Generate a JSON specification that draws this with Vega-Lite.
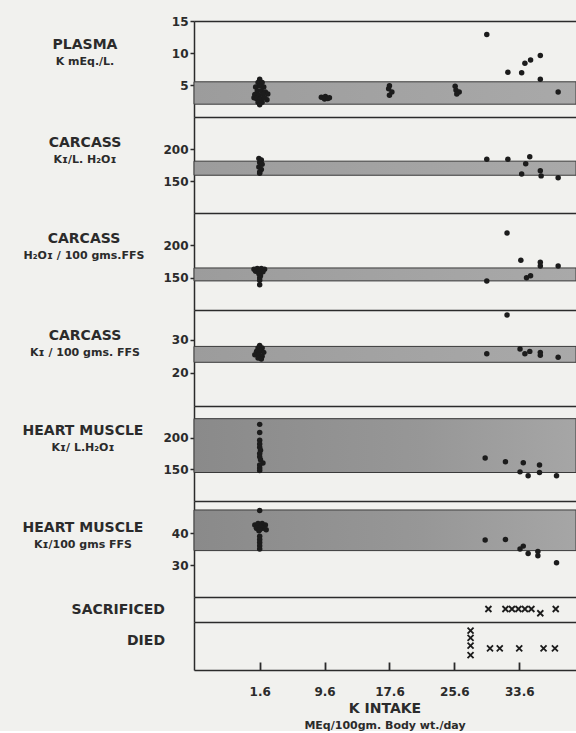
{
  "$schema": "https://vega.github.io/schema/vega-lite/v6.json",
  "background": "#f1f1ee",
  "padding": {"left": 22, "top": 15, "right": 0, "bottom": 0},
  "spacing": 0,
  "bounds": "flush",
  "title": {"text": "K INTAKE", "subtitle": "MEq/100gm. Body wt./day", "orient": "bottom", "anchor": "middle", "frame": "group", "offset": 5, "font": "DejaVu Sans", "fontSize": 14, "fontWeight": "bold", "color": "#2b2b2b", "subtitleFont": "DejaVu Sans", "subtitleFontSize": 11, "subtitleFontWeight": "bold", "subtitleColor": "#2b2b2b", "subtitlePadding": 4},
  "datasets": {
    "bands": [
      {"panel": "plasma", "lo": 2.0, "hi": 5.5},
      {"panel": "ck", "lo": 159, "hi": 181},
      {"panel": "ch", "lo": 145, "hi": 165},
      {"panel": "cf", "lo": 23.2, "hi": 28},
      {"panel": "hk", "lo": 145, "hi": 230},
      {"panel": "hf", "lo": 34.5, "hi": 47.2}
    ],
    "pts": [
      {"panel": "plasma", "k": 1.6, "v": 5.9}, {"panel": "plasma", "k": 1.4, "v": 5.4}, {"panel": "plasma", "k": 1.9, "v": 5.4},
      {"panel": "plasma", "k": 1.1, "v": 4.7}, {"panel": "plasma", "k": 1.6, "v": 4.9}, {"panel": "plasma", "k": 2.1, "v": 4.7},
      {"panel": "plasma", "k": 1.3, "v": 4.1}, {"panel": "plasma", "k": 1.8, "v": 4.1}, {"panel": "plasma", "k": 2.3, "v": 3.9},
      {"panel": "plasma", "k": 1.0, "v": 3.5}, {"panel": "plasma", "k": 1.5, "v": 3.4}, {"panel": "plasma", "k": 2.0, "v": 3.5},
      {"panel": "plasma", "k": 2.6, "v": 3.6}, {"panel": "plasma", "k": 0.9, "v": 3.0}, {"panel": "plasma", "k": 2.5, "v": 2.7},
      {"panel": "plasma", "k": 1.2, "v": 2.9}, {"panel": "plasma", "k": 1.7, "v": 2.8}, {"panel": "plasma", "k": 2.2, "v": 3.0},
      {"panel": "plasma", "k": 1.4, "v": 2.3}, {"panel": "plasma", "k": 1.9, "v": 2.3}, {"panel": "plasma", "k": 1.6, "v": 1.9},
      {"panel": "plasma", "k": 9.2, "v": 3.1}, {"panel": "plasma", "k": 9.7, "v": 3.2}, {"panel": "plasma", "k": 10.2, "v": 3.0},
      {"panel": "plasma", "k": 9.6, "v": 2.8}, {"panel": "plasma", "k": 10.0, "v": 2.9},
      {"panel": "plasma", "k": 17.6, "v": 4.9}, {"panel": "plasma", "k": 17.5, "v": 4.4}, {"panel": "plasma", "k": 17.9, "v": 3.9}, {"panel": "plasma", "k": 17.6, "v": 3.4},
      {"panel": "plasma", "k": 25.7, "v": 4.8}, {"panel": "plasma", "k": 25.8, "v": 4.2}, {"panel": "plasma", "k": 26.2, "v": 3.9}, {"panel": "plasma", "k": 25.9, "v": 3.6},
      {"panel": "plasma", "k": 29.6, "v": 12.9}, {"panel": "plasma", "k": 32.2, "v": 7.0}, {"panel": "plasma", "k": 33.9, "v": 6.9},
      {"panel": "plasma", "k": 34.3, "v": 8.4}, {"panel": "plasma", "k": 35.0, "v": 8.9}, {"panel": "plasma", "k": 36.2, "v": 9.6},
      {"panel": "plasma", "k": 36.2, "v": 5.9}, {"panel": "plasma", "k": 38.4, "v": 3.9},

      {"panel": "ck", "k": 1.5, "v": 185}, {"panel": "ck", "k": 1.8, "v": 183}, {"panel": "ck", "k": 1.6, "v": 179}, {"panel": "ck", "k": 1.9, "v": 176},
      {"panel": "ck", "k": 1.5, "v": 172}, {"panel": "ck", "k": 1.8, "v": 168}, {"panel": "ck", "k": 1.6, "v": 164}, {"panel": "ck", "k": 1.6, "v": 162},
      {"panel": "ck", "k": 29.6, "v": 184}, {"panel": "ck", "k": 32.2, "v": 184}, {"panel": "ck", "k": 34.9, "v": 188}, {"panel": "ck", "k": 34.4, "v": 177},
      {"panel": "ck", "k": 33.9, "v": 161}, {"panel": "ck", "k": 36.2, "v": 166}, {"panel": "ck", "k": 36.3, "v": 158}, {"panel": "ck", "k": 38.4, "v": 155},

      {"panel": "ch", "k": 0.9, "v": 163}, {"panel": "ch", "k": 1.3, "v": 164}, {"panel": "ch", "k": 1.8, "v": 164}, {"panel": "ch", "k": 2.2, "v": 163},
      {"panel": "ch", "k": 1.1, "v": 160}, {"panel": "ch", "k": 1.6, "v": 161}, {"panel": "ch", "k": 2.0, "v": 159}, {"panel": "ch", "k": 1.5, "v": 156},
      {"panel": "ch", "k": 1.7, "v": 153}, {"panel": "ch", "k": 1.6, "v": 150}, {"panel": "ch", "k": 1.6, "v": 146}, {"panel": "ch", "k": 1.6, "v": 139},
      {"panel": "ch", "k": 29.6, "v": 145}, {"panel": "ch", "k": 32.1, "v": 219}, {"panel": "ch", "k": 33.8, "v": 177}, {"panel": "ch", "k": 34.5, "v": 150},
      {"panel": "ch", "k": 35.0, "v": 153}, {"panel": "ch", "k": 36.2, "v": 174}, {"panel": "ch", "k": 36.2, "v": 168}, {"panel": "ch", "k": 38.4, "v": 168},

      {"panel": "cf", "k": 1.6, "v": 28.3}, {"panel": "cf", "k": 1.4, "v": 27.5}, {"panel": "cf", "k": 1.9, "v": 27.5}, {"panel": "cf", "k": 1.2, "v": 26.5},
      {"panel": "cf", "k": 1.7, "v": 26.8}, {"panel": "cf", "k": 2.1, "v": 26.2}, {"panel": "cf", "k": 1.0, "v": 25.5}, {"panel": "cf", "k": 1.5, "v": 25.5},
      {"panel": "cf", "k": 1.9, "v": 25.0}, {"panel": "cf", "k": 1.4, "v": 24.5}, {"panel": "cf", "k": 1.8, "v": 24.2},
      {"panel": "cf", "k": 29.6, "v": 25.8}, {"panel": "cf", "k": 32.1, "v": 37.5}, {"panel": "cf", "k": 33.7, "v": 27.2}, {"panel": "cf", "k": 34.3, "v": 25.8},
      {"panel": "cf", "k": 34.9, "v": 26.5}, {"panel": "cf", "k": 36.2, "v": 26.2}, {"panel": "cf", "k": 36.2, "v": 25.3}, {"panel": "cf", "k": 38.4, "v": 24.7},

      {"panel": "hk", "k": 1.6, "v": 221}, {"panel": "hk", "k": 1.6, "v": 208}, {"panel": "hk", "k": 1.6, "v": 196}, {"panel": "hk", "k": 1.6, "v": 190},
      {"panel": "hk", "k": 1.6, "v": 185}, {"panel": "hk", "k": 1.7, "v": 180}, {"panel": "hk", "k": 1.6, "v": 175}, {"panel": "hk", "k": 1.6, "v": 170},
      {"panel": "hk", "k": 1.7, "v": 165}, {"panel": "hk", "k": 2.0, "v": 160}, {"panel": "hk", "k": 1.6, "v": 157}, {"panel": "hk", "k": 1.6, "v": 152},
      {"panel": "hk", "k": 1.6, "v": 148},
      {"panel": "hk", "k": 29.4, "v": 168}, {"panel": "hk", "k": 31.9, "v": 162}, {"panel": "hk", "k": 34.1, "v": 160.5}, {"panel": "hk", "k": 33.7, "v": 146},
      {"panel": "hk", "k": 34.7, "v": 140}, {"panel": "hk", "k": 36.1, "v": 157}, {"panel": "hk", "k": 36.1, "v": 145}, {"panel": "hk", "k": 38.2, "v": 140},

      {"panel": "hf", "k": 1.6, "v": 47}, {"panel": "hf", "k": 1.0, "v": 42.5}, {"panel": "hf", "k": 1.4, "v": 43}, {"panel": "hf", "k": 1.9, "v": 43},
      {"panel": "hf", "k": 2.3, "v": 42.5}, {"panel": "hf", "k": 1.2, "v": 41.5}, {"panel": "hf", "k": 2.0, "v": 41.5}, {"panel": "hf", "k": 2.4, "v": 41},
      {"panel": "hf", "k": 1.5, "v": 40.7}, {"panel": "hf", "k": 1.7, "v": 42}, {"panel": "hf", "k": 1.6, "v": 41}, {"panel": "hf", "k": 1.6, "v": 39},
      {"panel": "hf", "k": 1.6, "v": 38}, {"panel": "hf", "k": 1.6, "v": 37}, {"panel": "hf", "k": 1.6, "v": 36}, {"panel": "hf", "k": 1.6, "v": 35},
      {"panel": "hf", "k": 29.4, "v": 37.8}, {"panel": "hf", "k": 31.9, "v": 38}, {"panel": "hf", "k": 33.7, "v": 35}, {"panel": "hf", "k": 34.1, "v": 35.9},
      {"panel": "hf", "k": 34.7, "v": 33.6}, {"panel": "hf", "k": 35.9, "v": 34.2}, {"panel": "hf", "k": 35.9, "v": 32.9}, {"panel": "hf", "k": 38.2, "v": 30.7}
    ],
    "crosses": [
      {"panel": "sac", "k": 29.8, "v": 5.2}, {"panel": "sac", "k": 31.9, "v": 5.2}, {"panel": "sac", "k": 32.7, "v": 5.2}, {"panel": "sac", "k": 33.5, "v": 5.2},
      {"panel": "sac", "k": 34.3, "v": 5.2}, {"panel": "sac", "k": 35.1, "v": 5.2}, {"panel": "sac", "k": 36.2, "v": 3.5}, {"panel": "sac", "k": 38.1, "v": 5.2},
      {"panel": "died", "k": 27.6, "v": 8.2}, {"panel": "died", "k": 27.6, "v": 6.7}, {"panel": "died", "k": 27.6, "v": 5.1}, {"panel": "died", "k": 27.6, "v": 3.1},
      {"panel": "died", "k": 30.0, "v": 4.5}, {"panel": "died", "k": 31.2, "v": 4.5}, {"panel": "died", "k": 33.6, "v": 4.5},
      {"panel": "died", "k": 36.6, "v": 4.5}, {"panel": "died", "k": 38.0, "v": 4.5}
    ]
  },
  "config": {
    "view": {"stroke": null},
    "axis": {"domainColor": "#2b2b2b", "domainWidth": 1.5, "tickColor": "#2b2b2b", "tickWidth": 1.5, "labelColor": "#2b2b2b", "labelFont": "DejaVu Sans", "labelFontSize": 12, "labelFontWeight": "bold", "grid": false},
    "title": {"font": "DejaVu Sans", "fontSize": 14, "fontWeight": "bold", "color": "#2b2b2b", "subtitleFont": "DejaVu Sans", "subtitleFontSize": 11, "subtitleFontWeight": "bold", "subtitleColor": "#2b2b2b", "subtitlePadding": 4, "orient": "top", "anchor": "start", "frame": "group", "offset": 0}
  },
  "vconcat": [
    {
      "width": 382, "height": 96,
      "title": {"text": "PLASMA", "subtitle": "K mEq./L.", "align": "center", "dx": -109, "dy": 56},
      "layer": [
        {"data": {"name": "bands"}, "transform": [{"filter": "datum.panel === 'plasma'"}],
         "mark": {"type": "rect", "fill": {"gradient": "linear", "x1": 0, "x2": 1, "y1": 0, "y2": 0, "stops": [{"offset": 0, "color": "#9c9c9c"}, {"offset": 1, "color": "#a9a9a9"}]}, "stroke": "#3a3a3a", "strokeWidth": 1},
         "encoding": {
           "x": {"datum": -6.5, "type": "quantitative", "scale": {"domain": [-6.5, 40.6], "nice": false, "zero": false}, "axis": {"orient": "top", "labels": false, "ticks": false, "title": null}},
           "x2": {"datum": 40.6},
           "y": {"field": "lo", "type": "quantitative", "scale": {"domain": [0, 15], "nice": false, "zero": false}, "axis": null},
           "y2": {"field": "hi"}}},
        {"data": {"name": "pts"}, "transform": [{"filter": "datum.panel === 'plasma'"}],
         "mark": {"type": "circle", "size": 30, "color": "#1c1c1c", "opacity": 1},
         "encoding": {
           "x": {"field": "k", "type": "quantitative", "scale": {"domain": [-6.5, 40.6], "nice": false, "zero": false}, "axis": {"orient": "bottom", "labels": false, "ticks": false, "title": null}},
           "y": {"field": "v", "type": "quantitative", "scale": {"domain": [0, 15], "nice": false, "zero": false}, "axis": {"values": [5, 10, 15], "tickSize": 4, "labelPadding": 2, "title": null}}}}
      ],
      "resolve": {"axis": {"x": "independent", "y": "independent"}}
    },
    {
      "width": 382, "height": 96,
      "title": {"text": "CARCASS", "subtitle": "Kɪ/L. H₂Oɪ", "align": "center", "dx": -109, "dy": 52},
      "layer": [
        {"data": {"name": "bands"}, "transform": [{"filter": "datum.panel === 'ck'"}],
         "mark": {"type": "rect", "fill": {"gradient": "linear", "x1": 0, "x2": 1, "y1": 0, "y2": 0, "stops": [{"offset": 0, "color": "#9c9c9c"}, {"offset": 1, "color": "#a9a9a9"}]}, "stroke": "#3a3a3a", "strokeWidth": 1},
         "encoding": {
           "x": {"datum": -6.5, "type": "quantitative", "scale": {"domain": [-6.5, 40.6], "nice": false, "zero": false}, "axis": null},
           "x2": {"datum": 40.6},
           "y": {"field": "lo", "type": "quantitative", "scale": {"domain": [100, 250], "nice": false, "zero": false}, "axis": null},
           "y2": {"field": "hi"}}},
        {"data": {"name": "pts"}, "transform": [{"filter": "datum.panel === 'ck'"}],
         "mark": {"type": "circle", "size": 30, "color": "#1c1c1c", "opacity": 1},
         "encoding": {
           "x": {"field": "k", "type": "quantitative", "scale": {"domain": [-6.5, 40.6], "nice": false, "zero": false}, "axis": {"orient": "bottom", "labels": false, "ticks": false, "title": null}},
           "y": {"field": "v", "type": "quantitative", "scale": {"domain": [100, 250], "nice": false, "zero": false}, "axis": {"values": [150, 200], "tickSize": 4, "labelPadding": 2, "title": null}}}}
      ],
      "resolve": {"axis": {"x": "independent", "y": "independent"}}
    },
    {
      "width": 382, "height": 97,
      "title": {"text": "CARCASS", "subtitle": "H₂Oɪ / 100 gms.FFS", "align": "center", "dx": -110, "dy": 52},
      "layer": [
        {"data": {"name": "bands"}, "transform": [{"filter": "datum.panel === 'ch'"}],
         "mark": {"type": "rect", "fill": {"gradient": "linear", "x1": 0, "x2": 1, "y1": 0, "y2": 0, "stops": [{"offset": 0, "color": "#9c9c9c"}, {"offset": 1, "color": "#a9a9a9"}]}, "stroke": "#3a3a3a", "strokeWidth": 1},
         "encoding": {
           "x": {"datum": -6.5, "type": "quantitative", "scale": {"domain": [-6.5, 40.6], "nice": false, "zero": false}, "axis": null},
           "x2": {"datum": 40.6},
           "y": {"field": "lo", "type": "quantitative", "scale": {"domain": [100, 250], "nice": false, "zero": false}, "axis": null},
           "y2": {"field": "hi"}}},
        {"data": {"name": "pts"}, "transform": [{"filter": "datum.panel === 'ch'"}],
         "mark": {"type": "circle", "size": 30, "color": "#1c1c1c", "opacity": 1},
         "encoding": {
           "x": {"field": "k", "type": "quantitative", "scale": {"domain": [-6.5, 40.6], "nice": false, "zero": false}, "axis": {"orient": "bottom", "labels": false, "ticks": false, "title": null}},
           "y": {"field": "v", "type": "quantitative", "scale": {"domain": [100, 250], "nice": false, "zero": false}, "axis": {"values": [150, 200], "tickSize": 4, "labelPadding": 2, "title": null}}}}
      ],
      "resolve": {"axis": {"x": "independent", "y": "independent"}}
    },
    {
      "width": 382, "height": 96,
      "title": {"text": "CARCASS", "subtitle": "Kɪ / 100 gms. FFS", "align": "center", "dx": -109, "dy": 52},
      "layer": [
        {"data": {"name": "bands"}, "transform": [{"filter": "datum.panel === 'cf'"}],
         "mark": {"type": "rect", "fill": {"gradient": "linear", "x1": 0, "x2": 1, "y1": 0, "y2": 0, "stops": [{"offset": 0, "color": "#9c9c9c"}, {"offset": 1, "color": "#a9a9a9"}]}, "stroke": "#3a3a3a", "strokeWidth": 1},
         "encoding": {
           "x": {"datum": -6.5, "type": "quantitative", "scale": {"domain": [-6.5, 40.6], "nice": false, "zero": false}, "axis": null},
           "x2": {"datum": 40.6},
           "y": {"field": "lo", "type": "quantitative", "scale": {"domain": [10, 39], "nice": false, "zero": false}, "axis": null},
           "y2": {"field": "hi"}}},
        {"data": {"name": "pts"}, "transform": [{"filter": "datum.panel === 'cf'"}],
         "mark": {"type": "circle", "size": 30, "color": "#1c1c1c", "opacity": 1},
         "encoding": {
           "x": {"field": "k", "type": "quantitative", "scale": {"domain": [-6.5, 40.6], "nice": false, "zero": false}, "axis": {"orient": "bottom", "labels": false, "ticks": false, "title": null}},
           "y": {"field": "v", "type": "quantitative", "scale": {"domain": [10, 39], "nice": false, "zero": false}, "axis": {"values": [20, 30], "tickSize": 4, "labelPadding": 2, "title": null}}}}
      ],
      "resolve": {"axis": {"x": "independent", "y": "independent"}}
    },
    {
      "width": 382, "height": 95,
      "title": {"text": "HEART MUSCLE", "subtitle": "Kɪ/ L.H₂Oɪ", "align": "center", "dx": -111, "dy": 51},
      "layer": [
        {"data": {"name": "bands"}, "transform": [{"filter": "datum.panel === 'hk'"}],
         "mark": {"type": "rect", "fill": {"gradient": "linear", "x1": 0, "x2": 1, "y1": 0, "y2": 0, "stops": [{"offset": 0, "color": "#8a8a8a"}, {"offset": 0.6, "color": "#979797"}, {"offset": 1, "color": "#a6a6a6"}]}, "stroke": "#3a3a3a", "strokeWidth": 1},
         "encoding": {
           "x": {"datum": -6.5, "type": "quantitative", "scale": {"domain": [-6.5, 40.6], "nice": false, "zero": false}, "axis": null},
           "x2": {"datum": 40.6},
           "y": {"field": "lo", "type": "quantitative", "scale": {"domain": [100, 250], "nice": false, "zero": false}, "axis": null},
           "y2": {"field": "hi"}}},
        {"data": {"name": "pts"}, "transform": [{"filter": "datum.panel === 'hk'"}],
         "mark": {"type": "circle", "size": 30, "color": "#1c1c1c", "opacity": 1},
         "encoding": {
           "x": {"field": "k", "type": "quantitative", "scale": {"domain": [-6.5, 40.6], "nice": false, "zero": false}, "axis": {"orient": "bottom", "labels": false, "ticks": false, "title": null}},
           "y": {"field": "v", "type": "quantitative", "scale": {"domain": [100, 250], "nice": false, "zero": false}, "axis": {"values": [150, 200], "tickSize": 4, "labelPadding": 2, "title": null}}}}
      ],
      "resolve": {"axis": {"x": "independent", "y": "independent"}}
    },
    {
      "width": 382, "height": 96,
      "title": {"text": "HEART MUSCLE", "subtitle": "Kɪ/100 gms FFS", "align": "center", "dx": -111, "dy": 53},
      "layer": [
        {"data": {"name": "bands"}, "transform": [{"filter": "datum.panel === 'hf'"}],
         "mark": {"type": "rect", "fill": {"gradient": "linear", "x1": 0, "x2": 1, "y1": 0, "y2": 0, "stops": [{"offset": 0, "color": "#8a8a8a"}, {"offset": 0.6, "color": "#979797"}, {"offset": 1, "color": "#a6a6a6"}]}, "stroke": "#3a3a3a", "strokeWidth": 1},
         "encoding": {
           "x": {"datum": -6.5, "type": "quantitative", "scale": {"domain": [-6.5, 40.6], "nice": false, "zero": false}, "axis": null},
           "x2": {"datum": 40.6},
           "y": {"field": "lo", "type": "quantitative", "scale": {"domain": [20, 50], "nice": false, "zero": false}, "axis": null},
           "y2": {"field": "hi"}}},
        {"data": {"name": "pts"}, "transform": [{"filter": "datum.panel === 'hf'"}],
         "mark": {"type": "circle", "size": 30, "color": "#1c1c1c", "opacity": 1},
         "encoding": {
           "x": {"field": "k", "type": "quantitative", "scale": {"domain": [-6.5, 40.6], "nice": false, "zero": false}, "axis": {"orient": "bottom", "labels": false, "ticks": false, "title": null}},
           "y": {"field": "v", "type": "quantitative", "scale": {"domain": [20, 50], "nice": false, "zero": false}, "axis": {"values": [30, 40], "tickSize": 4, "labelPadding": 2, "title": null}}}}
      ],
      "resolve": {"axis": {"x": "independent", "y": "independent"}}
    },
    {
      "width": 382, "height": 25,
      "title": {"text": "SACRIFICED", "align": "right", "dx": -29, "dy": 24},
      "data": {"name": "crosses"},
      "transform": [{"filter": "datum.panel === 'sac'"}],
      "mark": {"type": "point", "shape": "M-1,-1L1,1M1,-1L-1,1", "filled": false, "size": 36, "stroke": "#1c1c1c", "strokeWidth": 1.8, "opacity": 1},
      "encoding": {
        "x": {"field": "k", "type": "quantitative", "scale": {"domain": [-6.5, 40.6], "nice": false, "zero": false}, "axis": {"orient": "bottom", "labels": false, "ticks": false, "title": null}},
        "y": {"field": "v", "type": "quantitative", "scale": {"domain": [0, 10], "nice": false, "zero": false}, "axis": {"labels": false, "ticks": false, "title": null}}
      }
    },
    {
      "width": 382, "height": 48,
      "title": {"text": "DIED", "align": "right", "dx": -29, "dy": 30},
      "data": {"name": "crosses"},
      "transform": [{"filter": "datum.panel === 'died'"}],
      "mark": {"type": "point", "shape": "M-1,-1L1,1M1,-1L-1,1", "filled": false, "size": 36, "stroke": "#1c1c1c", "strokeWidth": 1.8, "opacity": 1},
      "encoding": {
        "x": {"field": "k", "type": "quantitative", "scale": {"domain": [-6.5, 40.6], "nice": false, "zero": false}, "axis": {"orient": "bottom", "values": [1.6, 9.6, 17.6, 25.6, 33.6], "format": ".1f", "tickSize": -8, "tickWidth": 1.8, "labelPadding": 24, "labelFontSize": 12, "title": null}},
        "y": {"field": "v", "type": "quantitative", "scale": {"domain": [0, 10], "nice": false, "zero": false}, "axis": {"labels": false, "ticks": false, "title": null}}
      }
    }
  ]
}
